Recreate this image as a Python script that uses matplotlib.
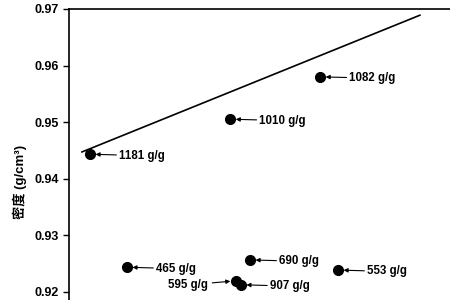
import matplotlib.pyplot as plt

plt.rcParams['font.family'] = ['Liberation Sans', 'Noto Sans CJK SC', 'DejaVu Sans']

# points (x in arbitrary units 0-100, y = density g/cm3)
labels = ["1181 g/g", "1010 g/g", "1082 g/g", "465 g/g", "690 g/g", "553 g/g", "595 g/g", "907 g/g"]
x_vals = [5.5, 42.3, 65.9, 15.2, 47.5, 70.6, 43.8, 45.1]
y_vals = [0.9443, 0.9505, 0.9580, 0.9243, 0.9256, 0.9238, 0.9219, 0.9212]
# label side: 1 = label on right, -1 = on left
sides = [1, 1, 1, 1, 1, 1, -1, 1]

# trend line
line_x = [3.4, 92.1]
line_y = [0.9447, 0.9689]

y_ticks = [0.92, 0.93, 0.94, 0.95, 0.96, 0.97]

fig = plt.figure(figsize=(4.5, 3), dpi=100)
ax = fig.add_axes([69/450, 0, 1 - 69/450, 1 - 9/300])
ax.set_xlim(0, 100)
ax.set_ylim(0.9185, 0.97)

ax.plot(line_x, line_y, color='black', linewidth=1.2)
ax.plot(x_vals, y_vals, 'o', color='black', markersize=7)

for lab, x, y, s in zip(labels, x_vals, y_vals, sides):
    if s > 0:
        ax.annotate(lab, xy=(x, y), xytext=(21, -1), textcoords='offset points',
                    ha='left', va='center', fontsize=8.3, fontweight='bold',
                    arrowprops=dict(arrowstyle='-|>', color='black', lw=0.8,
                                    shrinkA=0, shrinkB=4, mutation_scale=6))
    else:
        ax.annotate(lab, xy=(x, y), xytext=(-20, -3), textcoords='offset points',
                    ha='right', va='center', fontsize=8.3, fontweight='bold',
                    arrowprops=dict(arrowstyle='-|>', color='black', lw=0.8,
                                    shrinkA=1, shrinkB=4, mutation_scale=6))

ax.set_yticks(y_ticks)
ax.set_yticklabels([f"{t:.2f}" for t in y_ticks], fontsize=9, fontweight='bold')
ax.tick_params(axis='y', direction='out', length=4, width=1)
ax.set_xticks([])
ax.spines['right'].set_visible(False)
ax.spines['bottom'].set_visible(False)
ax.spines['left'].set_linewidth(1.2)
ax.spines['top'].set_linewidth(1.2)

fig.text(20/450, 1 - 182/300, "密度 (g/cm³)", rotation=90, ha='center', va='center',
         fontsize=9.5, fontweight='bold')

fig.savefig("out.png", dpi=100)
